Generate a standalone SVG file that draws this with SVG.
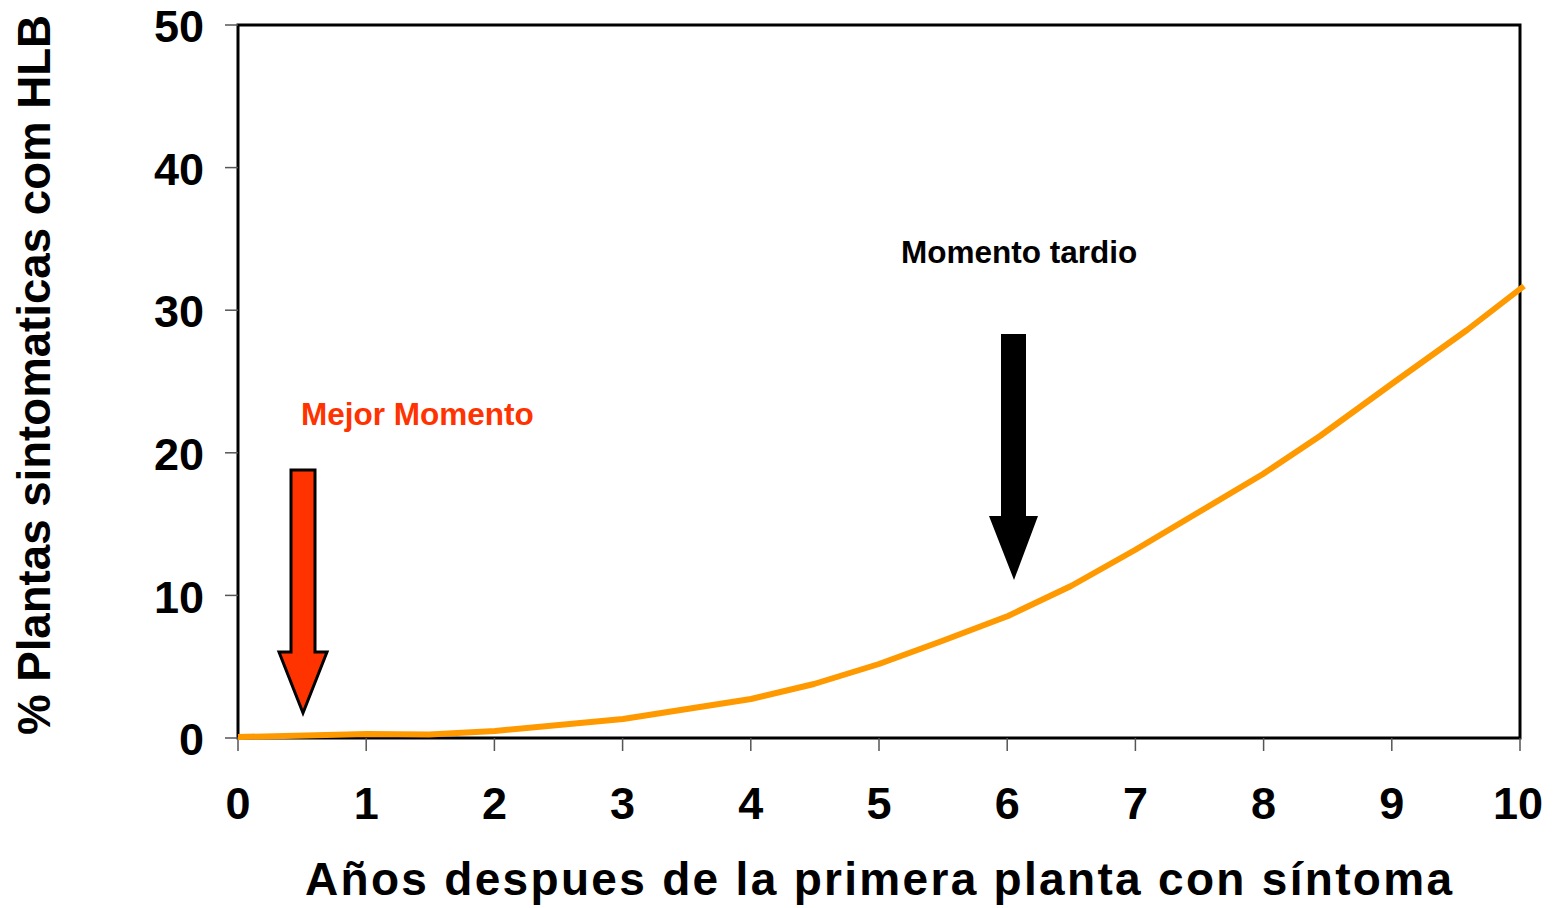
<svg xmlns="http://www.w3.org/2000/svg" width="1556" height="908" viewBox="0 0 1556 908">
<style>
text{font-family:"Liberation Sans",Arial,sans-serif;font-weight:bold;fill:#000}
.tick{font-size:45px}
.ytick{text-anchor:end}
.xtick{text-anchor:middle}
.tk{stroke:#555;stroke-width:1.5}
.title{font-size:46px}
.note{font-size:31.5px}
</style>
<rect width="1556" height="908" fill="#fff"/>
<g id="plot-frame">
<rect x="238" y="25" width="1282" height="713" fill="none" stroke="#000" stroke-width="3"/>
</g>
<g id="y-axis">
<g class="tk">
<line x1="225" y1="25" x2="238" y2="25"/>
<line x1="225" y1="167.6" x2="238" y2="167.6"/>
<line x1="225" y1="310.2" x2="238" y2="310.2"/>
<line x1="225" y1="452.8" x2="238" y2="452.8"/>
<line x1="225" y1="595.4" x2="238" y2="595.4"/>
<line x1="225" y1="738" x2="238" y2="738"/>
</g>
<text class="tick ytick" x="204" y="42">50</text>
<text class="tick ytick" x="204" y="185">40</text>
<text class="tick ytick" x="204" y="327">30</text>
<text class="tick ytick" x="204" y="470">20</text>
<text class="tick ytick" x="204" y="613">10</text>
<text class="tick ytick" x="204" y="755">0</text>
<text class="title" transform="translate(50,735) rotate(-90)" textLength="720" lengthAdjust="spacingAndGlyphs">% Plantas sintomaticas com HLB</text>
</g>
<g id="x-axis">
<g class="tk">
<line x1="238" y1="738" x2="238" y2="751"/>
<line x1="366.2" y1="738" x2="366.2" y2="751"/>
<line x1="494.4" y1="738" x2="494.4" y2="751"/>
<line x1="622.6" y1="738" x2="622.6" y2="751"/>
<line x1="750.8" y1="738" x2="750.8" y2="751"/>
<line x1="879" y1="738" x2="879" y2="751"/>
<line x1="1007.2" y1="738" x2="1007.2" y2="751"/>
<line x1="1135.4" y1="738" x2="1135.4" y2="751"/>
<line x1="1263.6" y1="738" x2="1263.6" y2="751"/>
<line x1="1391.8" y1="738" x2="1391.8" y2="751"/>
<line x1="1520" y1="738" x2="1520" y2="751"/>
</g>
<text class="tick xtick" x="238" y="819">0</text>
<text class="tick xtick" x="366.2" y="819">1</text>
<text class="tick xtick" x="494.4" y="819">2</text>
<text class="tick xtick" x="622.6" y="819">3</text>
<text class="tick xtick" x="750.8" y="819">4</text>
<text class="tick xtick" x="879" y="819">5</text>
<text class="tick xtick" x="1007.2" y="819">6</text>
<text class="tick xtick" x="1135.4" y="819">7</text>
<text class="tick xtick" x="1263.6" y="819">8</text>
<text class="tick xtick" x="1391.8" y="819">9</text>
<text class="tick xtick" x="1518" y="819">10</text>
<text class="title" x="305" y="895" textLength="1147" lengthAdjust="spacing">Años despues de la primera planta con síntoma</text>
</g>
<g id="curve">
<polyline fill="none" stroke="#FF9900" stroke-width="6" stroke-linejoin="round" points="238,737 367,734 429,734.5 495,731 623,719 751,699 814,684 879,664 942,641 1008,616 1071,586 1135,550 1199,512 1263,474 1320,436 1393,383 1467,330 1524,286"/>
</g>
<g id="mejor-momento">
<polygon points="291,470 315,470 315,652 327,652 303,713 279,652 291,652" fill="#FF3300" stroke="#000" stroke-width="3" stroke-linejoin="miter"/>
<text class="note" x="301" y="425" fill="#FF3300" style="fill:#FF3300">Mejor Momento</text>
</g>
<g id="momento-tardio">
<polygon points="1001,334 1026,334 1026,516 1038,516 1014,580 989,516 1001,516" fill="#000"/>
<text class="note" x="901" y="263">Momento tardio</text>
</g>
</svg>
